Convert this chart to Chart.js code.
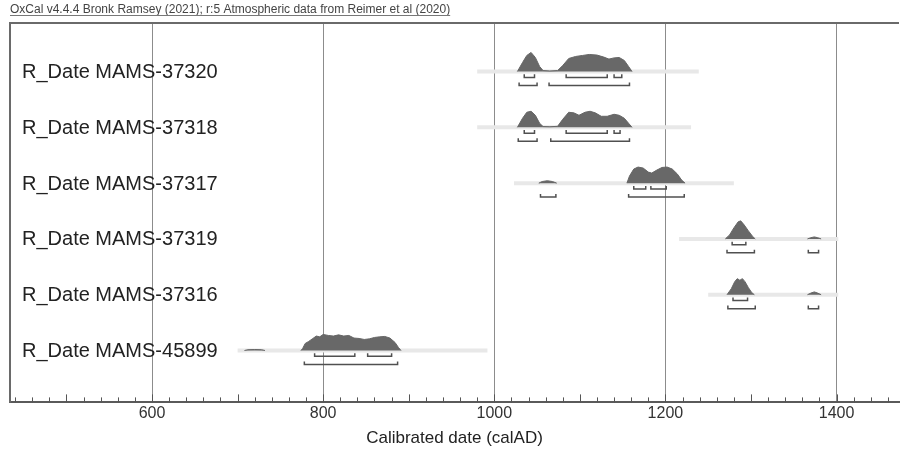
<!DOCTYPE html>
<html>
<head>
<meta charset="utf-8">
<script src="https://cdn.jsdelivr.net/npm/chart.js@4.4.0/dist/chart.umd.min.js"></script>
<style>
  html, body { margin: 0; padding: 0; background: #fff; }
  #wrap { width: 901px; height: 454px; }
</style>
</head>
<body>
<div id="wrap"><canvas id="chartOxcal"></canvas></div>
<script>
/* --------------------------------------------
   OxCal multi-plot — R_Date posteriors
--------------------------------------------- */

const plotTitle = "OxCal v4.4.4 Bronk Ramsey (2021); r:5 Atmospheric data from Reimer et al (2020)";
const axisTitle = "Calibrated date (calAD)";
const tickLabels = [600, 800, 1000, 1200, 1400];

// rows, top to bottom
const sampleNames = ["R_Date MAMS-37320", "R_Date MAMS-37318", "R_Date MAMS-37317",
                     "R_Date MAMS-37319", "R_Date MAMS-37316", "R_Date MAMS-45899"];

// posterior: calendar years and relative probability (null = gap)
const post37320Years = [1027, 1033, 1038, 1043, 1048, 1053, 1057, 1065, 1074, 1080, 1087, 1095, 1103, 1111, 1120, 1128, 1134, 1140, 1146, 1152, 1157, 1161];
const post37320Prob  = [0, 0.45, 0.8, 0.95, 0.7, 0.25, 0.05, 0.03, 0.05, 0.3, 0.65, 0.75, 0.8, 0.85, 0.82, 0.72, 0.62, 0.68, 0.7, 0.55, 0.25, 0];

const post37318Years = [1027, 1033, 1038, 1043, 1048, 1053, 1057, 1065, 1074, 1080, 1087, 1093, 1099, 1106, 1112, 1118, 1125, 1132, 1140, 1146, 1152, 1157, 1161];
const post37318Prob  = [0, 0.45, 0.75, 0.8, 0.6, 0.2, 0.04, 0.03, 0.05, 0.4, 0.75, 0.72, 0.6, 0.75, 0.8, 0.72, 0.55, 0.55, 0.65, 0.6, 0.45, 0.2, 0];

const post37317Years = [1052, 1056, 1062, 1068, 1073, 1100, 1155, 1158, 1163, 1168, 1174, 1180, 1184, 1190, 1196, 1202, 1208, 1214, 1219, 1223];
const post37317Prob  = [0, 0.08, 0.12, 0.08, 0, null, 0, 0.35, 0.7, 0.8, 0.75, 0.55, 0.5, 0.65, 0.78, 0.8, 0.7, 0.45, 0.15, 0];

const post37319Years = [1270, 1275, 1280, 1285, 1288, 1292, 1297, 1302, 1305, 1330, 1366, 1370, 1374, 1378, 1382];
const post37319Prob  = [0, 0.2, 0.55, 0.85, 0.9, 0.7, 0.4, 0.12, 0, null, 0, 0.06, 0.1, 0.06, 0];

const post37316Years = [1272, 1277, 1281, 1284, 1287, 1290, 1293, 1297, 1301, 1304, 1330, 1366, 1370, 1374, 1378, 1382];
const post37316Prob  = [0, 0.3, 0.65, 0.8, 0.72, 0.8, 0.65, 0.35, 0.1, 0, null, 0, 0.08, 0.14, 0.08, 0];

const post45899Years = [708, 712, 720, 728, 732, 750, 774, 776, 779, 783, 788, 792, 796, 800, 806, 812, 818, 824, 830, 836, 842, 848, 854, 860, 866, 872, 878, 884, 888, 891];
const post45899Prob  = [0, 0.04, 0.05, 0.04, 0, null, 0, 0.1, 0.35, 0.45, 0.6, 0.72, 0.68, 0.8, 0.75, 0.72, 0.78, 0.72, 0.75, 0.62, 0.6, 0.55, 0.58, 0.65, 0.68, 0.7, 0.62, 0.4, 0.15, 0];

// unmodelled likelihood spread (start, end)
const likeStart = [980, 980, 1023, 1216, 1250, 700];
const likeEnd   = [1239, 1230, 1280, 1402, 1402, 992];

// 68.3% and 95.4% ranges, [from, to]
const range68 = [
  [[1035, 1047], [1084, 1132], [1140, 1149]],
  [[1035, 1047], [1084, 1132], [1140, 1147]],
  [[1163, 1177], [1183, 1201]],
  [[1278, 1294]],
  [[1279, 1296]],
  [[790, 837], [852, 880]]
];
const range95 = [
  [[1029, 1050], [1064, 1158]],
  [[1028, 1050], [1066, 1158]],
  [[1054, 1072], [1157, 1222]],
  [[1272, 1304], [1367, 1379]],
  [[1273, 1305], [1367, 1379]],
  [[778, 887]]
];

const postYears = [post37320Years, post37318Years, post37317Years, post37319Years, post37316Years, post45899Years];
const postProb  = [post37320Prob, post37318Prob, post37317Prob, post37319Prob, post37316Prob, post45899Prob];

// layout in y units (one row = 1)
const PEAK = 0.36;      // height of prob 1
const OFF68 = 0.105;    // bracket drop below baseline
const OFF95 = 0.25;
const TICK = 0.055;

const rowY = i => sampleNames.length - i;

function bracketPoints(ranges, y) {
  const pts = [];
  ranges.forEach(r => {
    pts.push({ x: r[0], y: y + TICK }, { x: r[0], y: y }, { x: r[1], y: y }, { x: r[1], y: y + TICK });
    pts.push({ x: r[1], y: null });
  });
  return pts;
}

const bracketSets = [];
const postSets = [];
const likeSets = [];

sampleNames.forEach((name, i) => {
  const y0 = rowY(i);
  bracketSets.push({
    data: bracketPoints(range68[i], y0 - OFF68).concat(bracketPoints(range95[i], y0 - OFF95)),
    borderColor: "#505050",
    borderWidth: 1.5,
    pointRadius: 0,
    showLine: true,
    fill: false
  });
  postSets.push({
    data: postYears[i].map((yr, k) => ({ x: yr, y: postProb[i][k] === null ? null : y0 + postProb[i][k] * PEAK })),
    borderColor: "#666666",
    borderWidth: 1,
    backgroundColor: "#686868",
    pointRadius: 0,
    showLine: true,
    spanGaps: false,
    fill: { value: y0 }
  });
  likeSets.push({
    data: [{ x: likeStart[i], y: y0 }, { x: likeEnd[i], y: y0 }],
    borderColor: "#e8e8e8",
    borderWidth: 4,
    pointRadius: 0,
    showLine: true,
    fill: false
  });
});

/* -------------------------
    Frame, minor ticks, labels
------------------------- */
const oxcalDecor = {
  id: "oxcalDecor",
  afterDraw(chart) {
    const { ctx, chartArea: a, scales } = chart;
    const xs = scales.x, ys = scales.y;
    ctx.save();

    // frame left / top
    ctx.strokeStyle = "#6a6a6a";
    ctx.lineWidth = 2;
    ctx.beginPath();
    ctx.moveTo(a.left, a.bottom);
    ctx.lineTo(a.left, a.top);
    ctx.lineTo(a.right, a.top);
    ctx.stroke();

    // ticks inside bottom axis
    ctx.lineWidth = 1;
    ctx.strokeStyle = "#555";
    for (let v = Math.ceil(xs.min / 20) * 20; v <= xs.max; v += 20) {
      const px = Math.round(xs.getPixelForValue(v)) + 0.5;
      const len = v % 100 === 0 ? 8 : 5;
      ctx.beginPath();
      ctx.moveTo(px, a.bottom);
      ctx.lineTo(px, a.bottom - len);
      ctx.stroke();
    }

    // row labels
    ctx.fillStyle = "#222";
    ctx.font = "20px 'Liberation Sans', Arial, sans-serif";
    ctx.textBaseline = "middle";
    ctx.textAlign = "left";
    sampleNames.forEach((name, i) => {
      ctx.fillText(name, a.left + 12, ys.getPixelForValue(rowY(i)) + 1);
    });

    // header
    ctx.font = "12px 'Liberation Sans', Arial, sans-serif";
    ctx.fillStyle = "#444";
    ctx.textBaseline = "alphabetic";
    ctx.fillText(plotTitle, a.left, 13);
    const w = ctx.measureText(plotTitle).width;
    ctx.strokeStyle = "#777";
    ctx.beginPath();
    ctx.moveTo(a.left, 15.5);
    ctx.lineTo(a.left + w, 15.5);
    ctx.stroke();

    ctx.restore();
  }
};

new Chart(document.getElementById("chartOxcal"), {
  type: "scatter",
  data: { datasets: bracketSets.concat(postSets, likeSets) },
  options: {
    responsive: true,
    maintainAspectRatio: false,
    animation: false,
    devicePixelRatio: 1,
    layout: { padding: { left: 10, top: 23, right: 0, bottom: 0 } },
    plugins: { legend: { display: false }, tooltip: { enabled: false } },
    scales: {
      x: {
        type: "linear",
        min: 434,
        max: 1473,
        ticks: {
          stepSize: 20,
          autoSkip: false,
          maxRotation: 0,
          padding: 2,
          color: "#333",
          font: { family: "'Liberation Sans', Arial, sans-serif", size: 16 },
          callback: v => tickLabels.includes(v) ? String(v) : ""
        },
        grid: {
          drawTicks: false,
          lineWidth: 1,
          color: c => tickLabels.includes(c.tick && c.tick.value) ? "#8c8c8c" : "rgba(0,0,0,0)"
        },
        border: { display: true, color: "#5a5a5a", width: 2 },
        title: {
          display: true,
          text: axisTitle,
          color: "#222",
          font: { family: "'Liberation Sans', Arial, sans-serif", size: 17 },
          padding: { top: 3, bottom: 5 }
        }
      },
      y: {
        type: "linear",
        display: false,
        min: 0.07,
        max: 6.87
      }
    }
  },
  plugins: [oxcalDecor]
});
</script>
</body>
</html>
